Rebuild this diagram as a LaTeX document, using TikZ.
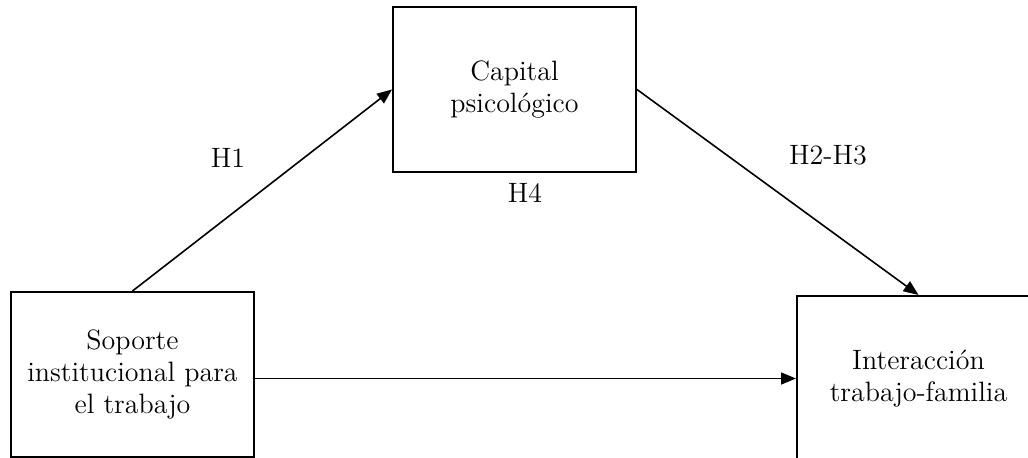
\documentclass[tikz,border=0pt]{standalone}
\usepackage{xcolor}
\usepackage{amsmath}
\usepackage{tikz}
\usetikzlibrary{arrows.meta}

\tikzset{
  varbox/.style={draw, line width=1pt, minimum width=121.5pt, minimum height=82.5pt,
    align=center, font=\fontsize{14}{16}\selectfont},
  hyp/.style={font=\fontsize{14}{16}\selectfont},
  link/.style={line width=0.8pt, -{Triangle[length=7.5pt, width=6pt]}}
}

\begin{document}
\begin{tikzpicture}[x=0.5pt, y=-0.5pt]
\clip (0,0) rectangle (1028,458);
\node [varbox] (soporte) at (132.5,374.5) {Soporte\\institucional para\\el trabajo};
\node [varbox] (capital) at (514.5,89.5) {Capital\\psicológico};
\node [varbox] (interaccion) at (918.5,378.5) {Interacción\\trabajo-familia};
\draw [link] (soporte.north) -- (capital.west);
\draw [link] (capital.east) -- (interaccion.north);
\draw [link] (soporte.east |- interaccion.west) -- (interaccion.west);
\node [hyp] (h1) at (228,158) {H1};
\node [hyp] (h4) at (525,193) {H4};
\node [hyp] (h23) at (828,155) {H2-H3};
\end{tikzpicture}
\end{document}
